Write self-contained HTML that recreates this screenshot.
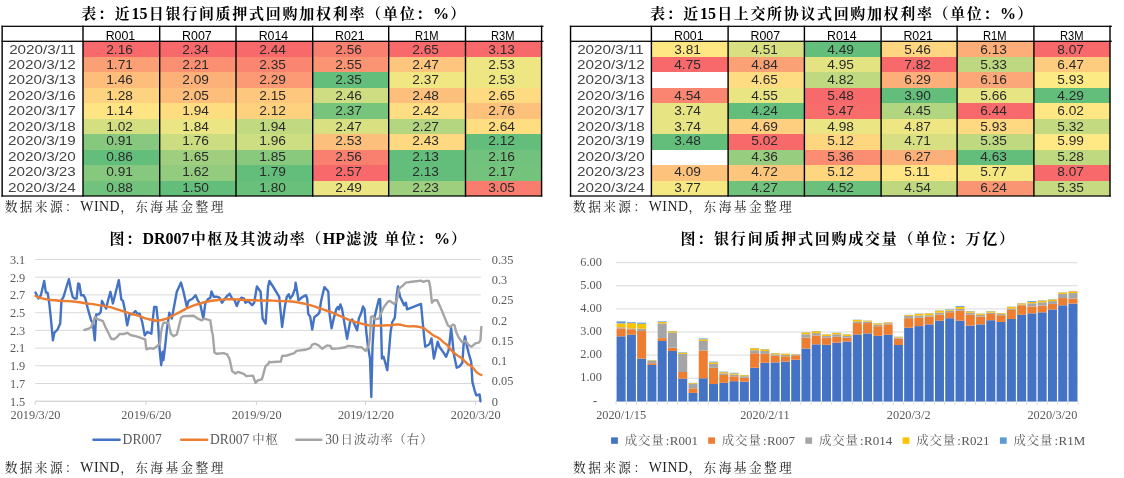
<!DOCTYPE html>
<html lang="zh-CN">
<head>
<meta charset="utf-8">
<title>回购利率与成交量</title>
<style>
html,body{margin:0;padding:0;background:#fff;}
body{width:1124px;height:478px;position:relative;overflow:hidden;font-family:"Liberation Serif","Noto Serif CJK SC",serif;}
.ttl{position:absolute;white-space:nowrap;font-weight:bold;font-size:15px;letter-spacing:1.6px;color:#000;line-height:20px;height:20px;}
.ttl b{letter-spacing:0;font-weight:bold;font-size:16px;margin-right:1.2px}
.src{position:absolute;white-space:nowrap;font-size:12.7px;letter-spacing:2.4px;color:#222;line-height:18px;height:18px;}
.src i{font-style:normal;letter-spacing:0.5px;font-size:13.9px;margin-left:0.2px;margin-right:0px}
.c{position:absolute;box-sizing:border-box;text-align:center;white-space:nowrap;overflow:visible;font-family:"Liberation Sans","Noto Sans CJK SC",sans-serif;}
.c span{display:inline-block;transform-origin:50% 50%;}
.d{font-size:12.7px;line-height:15.45px;color:#444;}
.d span{transform:translate(-0.3px,1.5px) scaleX(1.2);}
.v{font-size:12.7px;line-height:15.45px;color:#2b2b2b;}
.v span{transform:translate(-1.8px,1.5px) scaleX(1.08);}
.h{font-size:12.4px;line-height:12px;color:#000;padding-top:4.2px;}
.h span{transform:translate(-0.9px,0.2px) scaleX(1.0);}
.h span.nw{transform:translate(-0.3px,0.2px) scaleX(0.9);}
.ln{position:absolute;background:#000;}
svg{position:absolute;left:0;top:0;}
svg text{font-family:"Liberation Serif","Noto Serif CJK SC",serif;}
.ax{font-size:12.3px;fill:#595959;}
.lg{font-size:13.6px;fill:#595959;}
.lb{font-size:13px;fill:#595959;}
.cw{letter-spacing:1.4px}
.cj{font-size:12.4px;letter-spacing:0.9px}
</style>
</head>
<body>
<div class="ttl" style="left:81.3px;top:3.5px;letter-spacing:1.73px">表：近<b>15</b>日银行间质押式回购加权利率（单位：<b>%</b>）</div>
<div class="ttl" style="left:650.1px;top:3.5px;letter-spacing:1.64px">表：近<b>15</b>日上交所协议式回购加权利率（单位：<b>%</b>）</div>
<div class="ttl" style="left:109.4px;top:228.5px;letter-spacing:1.5px">图：<b>DR007</b>中枢及其波动率（<b>HP</b>滤波 单位：<b>%</b>）</div>
<div class="ttl" style="left:680.6px;top:228.5px;letter-spacing:1.76px">图：银行间质押式回购成交量（单位：万亿）</div>
<div id="t1">
<div class="c d" style="left:2.1px;top:41.30px;width:80.8px;height:15.47px"><span style="transform:translate(-0.3px,1.55px) scaleX(1.2)">2020/3/11</span></div>
<div class="c v" style="left:83.0px;top:41.30px;width:76.7px;height:15.52px;background:#F8696B;"><span style="transform:translate(-1.8px,1.55px) scaleX(1.08)">2.16</span></div>
<div class="c v" style="left:159.7px;top:41.30px;width:76.3px;height:15.52px;background:#F8696B;"><span style="transform:translate(-1.8px,1.55px) scaleX(1.08)">2.34</span></div>
<div class="c v" style="left:236.0px;top:41.30px;width:76.7px;height:15.52px;background:#F8696B;"><span style="transform:translate(-1.8px,1.55px) scaleX(1.08)">2.44</span></div>
<div class="c v" style="left:312.7px;top:41.30px;width:76.0px;height:15.52px;background:#F97F6F;"><span style="transform:translate(-1.8px,1.55px) scaleX(1.08)">2.56</span></div>
<div class="c v" style="left:388.7px;top:41.30px;width:76.8px;height:15.52px;background:#F8696B;"><span style="transform:translate(-1.8px,1.55px) scaleX(1.08)">2.65</span></div>
<div class="c v" style="left:465.5px;top:41.30px;width:76.1px;height:15.52px;background:#F8696B;"><span style="transform:translate(-1.8px,1.55px) scaleX(1.08)">3.13</span></div>
<div class="c d" style="left:2.1px;top:56.77px;width:80.8px;height:15.47px"><span style="transform:translate(-0.3px,1.35px) scaleX(1.2)">2020/3/12</span></div>
<div class="c v" style="left:83.0px;top:56.77px;width:76.7px;height:15.52px;background:#FB9F75;"><span style="transform:translate(-1.8px,1.35px) scaleX(1.08)">1.71</span></div>
<div class="c v" style="left:159.7px;top:56.77px;width:76.3px;height:15.52px;background:#FA8F72;"><span style="transform:translate(-1.8px,1.35px) scaleX(1.08)">2.21</span></div>
<div class="c v" style="left:236.0px;top:56.77px;width:76.7px;height:15.52px;background:#FA8671;"><span style="transform:translate(-1.8px,1.35px) scaleX(1.08)">2.35</span></div>
<div class="c v" style="left:312.7px;top:56.77px;width:76.0px;height:15.52px;background:#FA9473;"><span style="transform:translate(-1.8px,1.35px) scaleX(1.08)">2.55</span></div>
<div class="c v" style="left:388.7px;top:56.77px;width:76.8px;height:15.52px;background:#FDC57D;"><span style="transform:translate(-1.8px,1.35px) scaleX(1.08)">2.47</span></div>
<div class="c v" style="left:465.5px;top:56.77px;width:76.1px;height:15.52px;background:#EDE683;"><span style="transform:translate(-1.8px,1.35px) scaleX(1.08)">2.53</span></div>
<div class="c d" style="left:2.1px;top:72.24px;width:80.8px;height:15.47px"><span style="transform:translate(-0.3px,1.15px) scaleX(1.2)">2020/3/13</span></div>
<div class="c v" style="left:83.0px;top:72.24px;width:76.7px;height:15.52px;background:#FDBD7B;"><span style="transform:translate(-1.8px,1.15px) scaleX(1.08)">1.46</span></div>
<div class="c v" style="left:159.7px;top:72.24px;width:76.3px;height:15.52px;background:#FCB179;"><span style="transform:translate(-1.8px,1.15px) scaleX(1.08)">2.09</span></div>
<div class="c v" style="left:236.0px;top:72.24px;width:76.7px;height:15.52px;background:#FB9A74;"><span style="transform:translate(-1.8px,1.15px) scaleX(1.08)">2.29</span></div>
<div class="c v" style="left:312.7px;top:72.24px;width:76.0px;height:15.52px;background:#63BE7B;"><span style="transform:translate(-1.8px,1.15px) scaleX(1.08)">2.35</span></div>
<div class="c v" style="left:388.7px;top:72.24px;width:76.8px;height:15.52px;background:#F0E783;"><span style="transform:translate(-1.8px,1.15px) scaleX(1.08)">2.37</span></div>
<div class="c v" style="left:465.5px;top:72.24px;width:76.1px;height:15.52px;background:#EDE683;"><span style="transform:translate(-1.8px,1.15px) scaleX(1.08)">2.53</span></div>
<div class="c d" style="left:2.1px;top:87.71px;width:80.8px;height:15.47px"><span style="transform:translate(-0.3px,0.95px) scaleX(1.2)">2020/3/16</span></div>
<div class="c v" style="left:83.0px;top:87.71px;width:76.7px;height:15.52px;background:#FED37F;"><span style="transform:translate(-1.8px,0.95px) scaleX(1.08)">1.28</span></div>
<div class="c v" style="left:159.7px;top:87.71px;width:76.3px;height:15.52px;background:#FDBD7B;"><span style="transform:translate(-1.8px,0.95px) scaleX(1.08)">2.05</span></div>
<div class="c v" style="left:236.0px;top:87.71px;width:76.7px;height:15.52px;background:#FDC77D;"><span style="transform:translate(-1.8px,0.95px) scaleX(1.08)">2.15</span></div>
<div class="c v" style="left:312.7px;top:87.71px;width:76.0px;height:15.52px;background:#CEDD81;"><span style="transform:translate(-1.8px,0.95px) scaleX(1.08)">2.46</span></div>
<div class="c v" style="left:388.7px;top:87.71px;width:76.8px;height:15.52px;background:#FDC07C;"><span style="transform:translate(-1.8px,0.95px) scaleX(1.08)">2.48</span></div>
<div class="c v" style="left:465.5px;top:87.71px;width:76.1px;height:15.52px;background:#FEDB81;"><span style="transform:translate(-1.8px,0.95px) scaleX(1.08)">2.65</span></div>
<div class="c d" style="left:2.1px;top:103.18px;width:80.8px;height:15.47px"><span style="transform:translate(-0.3px,0.75px) scaleX(1.2)">2020/3/17</span></div>
<div class="c v" style="left:83.0px;top:103.18px;width:76.7px;height:15.52px;background:#FFE483;"><span style="transform:translate(-1.8px,0.75px) scaleX(1.08)">1.14</span></div>
<div class="c v" style="left:159.7px;top:103.18px;width:76.3px;height:15.52px;background:#FEDD81;"><span style="transform:translate(-1.8px,0.75px) scaleX(1.08)">1.94</span></div>
<div class="c v" style="left:236.0px;top:103.18px;width:76.7px;height:15.52px;background:#FED17F;"><span style="transform:translate(-1.8px,0.75px) scaleX(1.08)">2.12</span></div>
<div class="c v" style="left:312.7px;top:103.18px;width:76.0px;height:15.52px;background:#77C47C;"><span style="transform:translate(-1.8px,0.75px) scaleX(1.08)">2.37</span></div>
<div class="c v" style="left:388.7px;top:103.18px;width:76.8px;height:15.52px;background:#FEDE82;"><span style="transform:translate(-1.8px,0.75px) scaleX(1.08)">2.42</span></div>
<div class="c v" style="left:465.5px;top:103.18px;width:76.1px;height:15.52px;background:#FDC17C;"><span style="transform:translate(-1.8px,0.75px) scaleX(1.08)">2.76</span></div>
<div class="c d" style="left:2.1px;top:118.65px;width:80.8px;height:15.47px"><span style="transform:translate(-0.3px,0.55px) scaleX(1.2)">2020/3/18</span></div>
<div class="c v" style="left:83.0px;top:118.65px;width:76.7px;height:15.52px;background:#D4DF82;"><span style="transform:translate(-1.8px,0.55px) scaleX(1.08)">1.02</span></div>
<div class="c v" style="left:159.7px;top:118.65px;width:76.3px;height:15.52px;background:#EBE583;"><span style="transform:translate(-1.8px,0.55px) scaleX(1.08)">1.84</span></div>
<div class="c v" style="left:236.0px;top:118.65px;width:76.7px;height:15.52px;background:#C1D980;"><span style="transform:translate(-1.8px,0.55px) scaleX(1.08)">1.94</span></div>
<div class="c v" style="left:312.7px;top:118.65px;width:76.0px;height:15.52px;background:#D8E082;"><span style="transform:translate(-1.8px,0.55px) scaleX(1.08)">2.47</span></div>
<div class="c v" style="left:388.7px;top:118.65px;width:76.8px;height:15.52px;background:#B5D680;"><span style="transform:translate(-1.8px,0.55px) scaleX(1.08)">2.27</span></div>
<div class="c v" style="left:465.5px;top:118.65px;width:76.1px;height:15.52px;background:#FEDE81;"><span style="transform:translate(-1.8px,0.55px) scaleX(1.08)">2.64</span></div>
<div class="c d" style="left:2.1px;top:134.12px;width:80.8px;height:15.47px"><span style="transform:translate(-0.3px,0.35px) scaleX(1.2)">2020/3/19</span></div>
<div class="c v" style="left:83.0px;top:134.12px;width:76.7px;height:15.52px;background:#86C87D;"><span style="transform:translate(-1.8px,0.35px) scaleX(1.08)">0.91</span></div>
<div class="c v" style="left:159.7px;top:134.12px;width:76.3px;height:15.52px;background:#CBDC81;"><span style="transform:translate(-1.8px,0.35px) scaleX(1.08)">1.76</span></div>
<div class="c v" style="left:236.0px;top:134.12px;width:76.7px;height:15.52px;background:#CDDD81;"><span style="transform:translate(-1.8px,0.35px) scaleX(1.08)">1.96</span></div>
<div class="c v" style="left:312.7px;top:134.12px;width:76.0px;height:15.52px;background:#FDC07C;"><span style="transform:translate(-1.8px,0.35px) scaleX(1.08)">2.53</span></div>
<div class="c v" style="left:388.7px;top:134.12px;width:76.8px;height:15.52px;background:#FED981;"><span style="transform:translate(-1.8px,0.35px) scaleX(1.08)">2.43</span></div>
<div class="c v" style="left:465.5px;top:134.12px;width:76.1px;height:15.52px;background:#63BE7B;"><span style="transform:translate(-1.8px,0.35px) scaleX(1.08)">2.12</span></div>
<div class="c d" style="left:2.1px;top:149.59px;width:80.8px;height:15.47px"><span style="transform:translate(-0.3px,0.15px) scaleX(1.2)">2020/3/20</span></div>
<div class="c v" style="left:83.0px;top:149.59px;width:76.7px;height:15.52px;background:#63BE7B;"><span style="transform:translate(-1.8px,0.15px) scaleX(1.08)">0.86</span></div>
<div class="c v" style="left:159.7px;top:149.59px;width:76.3px;height:15.52px;background:#9FCF7E;"><span style="transform:translate(-1.8px,0.15px) scaleX(1.08)">1.65</span></div>
<div class="c v" style="left:236.0px;top:149.59px;width:76.7px;height:15.52px;background:#88C97D;"><span style="transform:translate(-1.8px,0.15px) scaleX(1.08)">1.85</span></div>
<div class="c v" style="left:312.7px;top:149.59px;width:76.0px;height:15.52px;background:#F97F6F;"><span style="transform:translate(-1.8px,0.15px) scaleX(1.08)">2.56</span></div>
<div class="c v" style="left:388.7px;top:149.59px;width:76.8px;height:15.52px;background:#63BE7B;"><span style="transform:translate(-1.8px,0.15px) scaleX(1.08)">2.13</span></div>
<div class="c v" style="left:465.5px;top:149.59px;width:76.1px;height:15.52px;background:#70C27C;"><span style="transform:translate(-1.8px,0.15px) scaleX(1.08)">2.16</span></div>
<div class="c d" style="left:2.1px;top:165.06px;width:80.8px;height:15.47px"><span style="transform:translate(-0.3px,-0.05px) scaleX(1.2)">2020/3/23</span></div>
<div class="c v" style="left:83.0px;top:165.06px;width:76.7px;height:15.52px;background:#86C87D;"><span style="transform:translate(-1.8px,-0.05px) scaleX(1.08)">0.91</span></div>
<div class="c v" style="left:159.7px;top:165.06px;width:76.3px;height:15.52px;background:#93CC7E;"><span style="transform:translate(-1.8px,-0.05px) scaleX(1.08)">1.62</span></div>
<div class="c v" style="left:236.0px;top:165.06px;width:76.7px;height:15.52px;background:#63BE7B;"><span style="transform:translate(-1.8px,-0.05px) scaleX(1.08)">1.79</span></div>
<div class="c v" style="left:312.7px;top:165.06px;width:76.0px;height:15.52px;background:#F8696B;"><span style="transform:translate(-1.8px,-0.05px) scaleX(1.08)">2.57</span></div>
<div class="c v" style="left:388.7px;top:165.06px;width:76.8px;height:15.52px;background:#63BE7B;"><span style="transform:translate(-1.8px,-0.05px) scaleX(1.08)">2.13</span></div>
<div class="c v" style="left:465.5px;top:165.06px;width:76.1px;height:15.52px;background:#74C37C;"><span style="transform:translate(-1.8px,-0.05px) scaleX(1.08)">2.17</span></div>
<div class="c d" style="left:2.1px;top:180.53px;width:80.8px;height:15.47px"><span style="transform:translate(-0.3px,-0.25px) scaleX(1.2)">2020/3/24</span></div>
<div class="c v" style="left:83.0px;top:180.53px;width:76.7px;height:15.52px;background:#71C27C;"><span style="transform:translate(-1.8px,-0.25px) scaleX(1.08)">0.88</span></div>
<div class="c v" style="left:159.7px;top:180.53px;width:76.3px;height:15.52px;background:#63BE7B;"><span style="transform:translate(-1.8px,-0.25px) scaleX(1.08)">1.50</span></div>
<div class="c v" style="left:236.0px;top:180.53px;width:76.7px;height:15.52px;background:#69C07B;"><span style="transform:translate(-1.8px,-0.25px) scaleX(1.08)">1.80</span></div>
<div class="c v" style="left:312.7px;top:180.53px;width:76.0px;height:15.52px;background:#ECE583;"><span style="transform:translate(-1.8px,-0.25px) scaleX(1.08)">2.49</span></div>
<div class="c v" style="left:388.7px;top:180.53px;width:76.8px;height:15.52px;background:#9ECF7E;"><span style="transform:translate(-1.8px,-0.25px) scaleX(1.08)">2.23</span></div>
<div class="c v" style="left:465.5px;top:180.53px;width:76.1px;height:15.52px;background:#F97C6F;"><span style="transform:translate(-1.8px,-0.25px) scaleX(1.08)">3.05</span></div>
<div class="c h" style="left:83.0px;top:26.30px;width:76.7px;height:15.00px"><span>R001</span></div>
<div class="c h" style="left:159.7px;top:26.30px;width:76.3px;height:15.00px"><span>R007</span></div>
<div class="c h" style="left:236.0px;top:26.30px;width:76.7px;height:15.00px"><span>R014</span></div>
<div class="c h" style="left:312.7px;top:26.30px;width:76.0px;height:15.00px"><span>R021</span></div>
<div class="c h" style="left:388.7px;top:26.30px;width:76.8px;height:15.00px"><span class="nw">R1M</span></div>
<div class="c h" style="left:465.5px;top:26.30px;width:76.1px;height:15.00px"><span class="nw">R3M</span></div>
</div>
<div id="t2">
<div class="c d" style="left:570.5px;top:41.30px;width:80.9px;height:15.47px"><span style="transform:translate(-0.3px,1.55px) scaleX(1.2)">2020/3/11</span></div>
<div class="c v" style="left:651.4px;top:41.30px;width:76.7px;height:15.52px;background:#FFE883;"><span style="transform:translate(-1.8px,1.55px) scaleX(1.08)">3.81</span></div>
<div class="c v" style="left:728.1px;top:41.30px;width:76.3px;height:15.52px;background:#D8E082;"><span style="transform:translate(-1.8px,1.55px) scaleX(1.08)">4.51</span></div>
<div class="c v" style="left:804.4px;top:41.30px;width:76.7px;height:15.52px;background:#63BE7B;"><span style="transform:translate(-1.8px,1.55px) scaleX(1.08)">4.49</span></div>
<div class="c v" style="left:881.1px;top:41.30px;width:76.0px;height:15.52px;background:#FED580;"><span style="transform:translate(-1.8px,1.55px) scaleX(1.08)">5.46</span></div>
<div class="c v" style="left:957.1px;top:41.30px;width:76.8px;height:15.52px;background:#FCAD78;"><span style="transform:translate(-1.8px,1.55px) scaleX(1.08)">6.13</span></div>
<div class="c v" style="left:1033.9px;top:41.30px;width:76.1px;height:15.52px;background:#F8696B;"><span style="transform:translate(-1.8px,1.55px) scaleX(1.08)">8.07</span></div>
<div class="c d" style="left:570.5px;top:56.77px;width:80.9px;height:15.47px"><span style="transform:translate(-0.3px,1.35px) scaleX(1.2)">2020/3/12</span></div>
<div class="c v" style="left:651.4px;top:56.77px;width:76.7px;height:15.52px;background:#F8696B;"><span style="transform:translate(-1.8px,1.35px) scaleX(1.08)">4.75</span></div>
<div class="c v" style="left:728.1px;top:56.77px;width:76.3px;height:15.52px;background:#FBA176;"><span style="transform:translate(-1.8px,1.35px) scaleX(1.08)">4.84</span></div>
<div class="c v" style="left:804.4px;top:56.77px;width:76.7px;height:15.52px;background:#E3E382;"><span style="transform:translate(-1.8px,1.35px) scaleX(1.08)">4.95</span></div>
<div class="c v" style="left:881.1px;top:56.77px;width:76.0px;height:15.52px;background:#F8696B;"><span style="transform:translate(-1.8px,1.35px) scaleX(1.08)">7.82</span></div>
<div class="c v" style="left:957.1px;top:56.77px;width:76.8px;height:15.52px;background:#BDD880;"><span style="transform:translate(-1.8px,1.35px) scaleX(1.08)">5.33</span></div>
<div class="c v" style="left:1033.9px;top:56.77px;width:76.1px;height:15.52px;background:#FDCC7E;"><span style="transform:translate(-1.8px,1.35px) scaleX(1.08)">6.47</span></div>
<div class="c d" style="left:570.5px;top:72.24px;width:80.9px;height:15.47px"><span style="transform:translate(-0.3px,1.15px) scaleX(1.2)">2020/3/13</span></div>
<div class="c v" style="left:651.4px;top:72.24px;width:76.7px;height:15.52px;"><span style="transform:translate(-1.8px,1.15px) scaleX(1.08)"></span></div>
<div class="c v" style="left:728.1px;top:72.24px;width:76.3px;height:15.52px;background:#FEDC81;"><span style="transform:translate(-1.8px,1.15px) scaleX(1.08)">4.65</span></div>
<div class="c v" style="left:804.4px;top:72.24px;width:76.7px;height:15.52px;background:#BFD980;"><span style="transform:translate(-1.8px,1.15px) scaleX(1.08)">4.82</span></div>
<div class="c v" style="left:881.1px;top:72.24px;width:76.0px;height:15.52px;background:#FCAF79;"><span style="transform:translate(-1.8px,1.15px) scaleX(1.08)">6.29</span></div>
<div class="c v" style="left:957.1px;top:72.24px;width:76.8px;height:15.52px;background:#FBA777;"><span style="transform:translate(-1.8px,1.15px) scaleX(1.08)">6.16</span></div>
<div class="c v" style="left:1033.9px;top:72.24px;width:76.1px;height:15.52px;background:#FCEA84;"><span style="transform:translate(-1.8px,1.15px) scaleX(1.08)">5.93</span></div>
<div class="c d" style="left:570.5px;top:87.71px;width:80.9px;height:15.47px"><span style="transform:translate(-0.3px,0.95px) scaleX(1.2)">2020/3/16</span></div>
<div class="c v" style="left:651.4px;top:87.71px;width:76.7px;height:15.52px;background:#FA8570;"><span style="transform:translate(-1.8px,0.95px) scaleX(1.08)">4.54</span></div>
<div class="c v" style="left:728.1px;top:87.71px;width:76.3px;height:15.52px;background:#E9E583;"><span style="transform:translate(-1.8px,0.95px) scaleX(1.08)">4.55</span></div>
<div class="c v" style="left:804.4px;top:87.71px;width:76.7px;height:15.52px;background:#F8696B;"><span style="transform:translate(-1.8px,0.95px) scaleX(1.08)">5.48</span></div>
<div class="c v" style="left:881.1px;top:87.71px;width:76.0px;height:15.52px;background:#63BE7B;"><span style="transform:translate(-1.8px,0.95px) scaleX(1.08)">3.90</span></div>
<div class="c v" style="left:957.1px;top:87.71px;width:76.8px;height:15.52px;background:#E7E483;"><span style="transform:translate(-1.8px,0.95px) scaleX(1.08)">5.66</span></div>
<div class="c v" style="left:1033.9px;top:87.71px;width:76.1px;height:15.52px;background:#63BE7B;"><span style="transform:translate(-1.8px,0.95px) scaleX(1.08)">4.29</span></div>
<div class="c d" style="left:570.5px;top:103.18px;width:80.9px;height:15.47px"><span style="transform:translate(-0.3px,0.75px) scaleX(1.2)">2020/3/17</span></div>
<div class="c v" style="left:651.4px;top:103.18px;width:76.7px;height:15.52px;background:#E6E483;"><span style="transform:translate(-1.8px,0.75px) scaleX(1.08)">3.74</span></div>
<div class="c v" style="left:728.1px;top:103.18px;width:76.3px;height:15.52px;background:#63BE7B;"><span style="transform:translate(-1.8px,0.75px) scaleX(1.08)">4.24</span></div>
<div class="c v" style="left:804.4px;top:103.18px;width:76.7px;height:15.52px;background:#F86C6C;"><span style="transform:translate(-1.8px,0.75px) scaleX(1.08)">5.47</span></div>
<div class="c v" style="left:881.1px;top:103.18px;width:76.0px;height:15.52px;background:#B2D580;"><span style="transform:translate(-1.8px,0.75px) scaleX(1.08)">4.45</span></div>
<div class="c v" style="left:957.1px;top:103.18px;width:76.8px;height:15.52px;background:#F8696B;"><span style="transform:translate(-1.8px,0.75px) scaleX(1.08)">6.44</span></div>
<div class="c v" style="left:1033.9px;top:103.18px;width:76.1px;height:15.52px;background:#FFE783;"><span style="transform:translate(-1.8px,0.75px) scaleX(1.08)">6.02</span></div>
<div class="c d" style="left:570.5px;top:118.65px;width:80.9px;height:15.47px"><span style="transform:translate(-0.3px,0.55px) scaleX(1.2)">2020/3/18</span></div>
<div class="c v" style="left:651.4px;top:118.65px;width:76.7px;height:15.52px;background:#E6E483;"><span style="transform:translate(-1.8px,0.55px) scaleX(1.08)">3.74</span></div>
<div class="c v" style="left:728.1px;top:118.65px;width:76.3px;height:15.52px;background:#FECF7F;"><span style="transform:translate(-1.8px,0.55px) scaleX(1.08)">4.69</span></div>
<div class="c v" style="left:804.4px;top:118.65px;width:76.7px;height:15.52px;background:#EBE583;"><span style="transform:translate(-1.8px,0.55px) scaleX(1.08)">4.98</span></div>
<div class="c v" style="left:881.1px;top:118.65px;width:76.0px;height:15.52px;background:#EEE683;"><span style="transform:translate(-1.8px,0.55px) scaleX(1.08)">4.87</span></div>
<div class="c v" style="left:957.1px;top:118.65px;width:76.8px;height:15.52px;background:#FED981;"><span style="transform:translate(-1.8px,0.55px) scaleX(1.08)">5.93</span></div>
<div class="c v" style="left:1033.9px;top:118.65px;width:76.1px;height:15.52px;background:#C3DA81;"><span style="transform:translate(-1.8px,0.55px) scaleX(1.08)">5.32</span></div>
<div class="c d" style="left:570.5px;top:134.12px;width:80.9px;height:15.47px"><span style="transform:translate(-0.3px,0.35px) scaleX(1.2)">2020/3/19</span></div>
<div class="c v" style="left:651.4px;top:134.12px;width:76.7px;height:15.52px;background:#63BE7B;"><span style="transform:translate(-1.8px,0.35px) scaleX(1.08)">3.48</span></div>
<div class="c v" style="left:728.1px;top:134.12px;width:76.3px;height:15.52px;background:#F8696B;"><span style="transform:translate(-1.8px,0.35px) scaleX(1.08)">5.02</span></div>
<div class="c v" style="left:804.4px;top:134.12px;width:76.7px;height:15.52px;background:#FED680;"><span style="transform:translate(-1.8px,0.35px) scaleX(1.08)">5.12</span></div>
<div class="c v" style="left:881.1px;top:134.12px;width:76.0px;height:15.52px;background:#D7DF82;"><span style="transform:translate(-1.8px,0.35px) scaleX(1.08)">4.71</span></div>
<div class="c v" style="left:957.1px;top:134.12px;width:76.8px;height:15.52px;background:#BFD980;"><span style="transform:translate(-1.8px,0.35px) scaleX(1.08)">5.35</span></div>
<div class="c v" style="left:1033.9px;top:134.12px;width:76.1px;height:15.52px;background:#FFE984;"><span style="transform:translate(-1.8px,0.35px) scaleX(1.08)">5.99</span></div>
<div class="c d" style="left:570.5px;top:149.59px;width:80.9px;height:15.47px"><span style="transform:translate(-0.3px,0.15px) scaleX(1.2)">2020/3/20</span></div>
<div class="c v" style="left:651.4px;top:149.59px;width:76.7px;height:15.52px;"><span style="transform:translate(-1.8px,0.15px) scaleX(1.08)"></span></div>
<div class="c v" style="left:728.1px;top:149.59px;width:76.3px;height:15.52px;background:#97CD7E;"><span style="transform:translate(-1.8px,0.15px) scaleX(1.08)">4.36</span></div>
<div class="c v" style="left:804.4px;top:149.59px;width:76.7px;height:15.52px;background:#FA8D72;"><span style="transform:translate(-1.8px,0.15px) scaleX(1.08)">5.36</span></div>
<div class="c v" style="left:881.1px;top:149.59px;width:76.0px;height:15.52px;background:#FCB079;"><span style="transform:translate(-1.8px,0.15px) scaleX(1.08)">6.27</span></div>
<div class="c v" style="left:957.1px;top:149.59px;width:76.8px;height:15.52px;background:#63BE7B;"><span style="transform:translate(-1.8px,0.15px) scaleX(1.08)">4.63</span></div>
<div class="c v" style="left:1033.9px;top:149.59px;width:76.1px;height:15.52px;background:#BFD980;"><span style="transform:translate(-1.8px,0.15px) scaleX(1.08)">5.28</span></div>
<div class="c d" style="left:570.5px;top:165.06px;width:80.9px;height:15.47px"><span style="transform:translate(-0.3px,-0.05px) scaleX(1.2)">2020/3/23</span></div>
<div class="c v" style="left:651.4px;top:165.06px;width:76.7px;height:15.52px;background:#FDC27C;"><span style="transform:translate(-1.8px,-0.05px) scaleX(1.08)">4.09</span></div>
<div class="c v" style="left:728.1px;top:165.06px;width:76.3px;height:15.52px;background:#FDC67D;"><span style="transform:translate(-1.8px,-0.05px) scaleX(1.08)">4.72</span></div>
<div class="c v" style="left:804.4px;top:165.06px;width:76.7px;height:15.52px;background:#FED680;"><span style="transform:translate(-1.8px,-0.05px) scaleX(1.08)">5.12</span></div>
<div class="c v" style="left:881.1px;top:165.06px;width:76.0px;height:15.52px;background:#FFE583;"><span style="transform:translate(-1.8px,-0.05px) scaleX(1.08)">5.11</span></div>
<div class="c v" style="left:957.1px;top:165.06px;width:76.8px;height:15.52px;background:#F5E883;"><span style="transform:translate(-1.8px,-0.05px) scaleX(1.08)">5.77</span></div>
<div class="c v" style="left:1033.9px;top:165.06px;width:76.1px;height:15.52px;background:#F8696B;"><span style="transform:translate(-1.8px,-0.05px) scaleX(1.08)">8.07</span></div>
<div class="c d" style="left:570.5px;top:180.53px;width:80.9px;height:15.47px"><span style="transform:translate(-0.3px,-0.25px) scaleX(1.2)">2020/3/24</span></div>
<div class="c v" style="left:651.4px;top:180.53px;width:76.7px;height:15.52px;background:#F5E883;"><span style="transform:translate(-1.8px,-0.25px) scaleX(1.08)">3.77</span></div>
<div class="c v" style="left:728.1px;top:180.53px;width:76.3px;height:15.52px;background:#70C27C;"><span style="transform:translate(-1.8px,-0.25px) scaleX(1.08)">4.27</span></div>
<div class="c v" style="left:804.4px;top:180.53px;width:76.7px;height:15.52px;background:#6BC07B;"><span style="transform:translate(-1.8px,-0.25px) scaleX(1.08)">4.52</span></div>
<div class="c v" style="left:881.1px;top:180.53px;width:76.0px;height:15.52px;background:#BFD880;"><span style="transform:translate(-1.8px,-0.25px) scaleX(1.08)">4.54</span></div>
<div class="c v" style="left:957.1px;top:180.53px;width:76.8px;height:15.52px;background:#FA9573;"><span style="transform:translate(-1.8px,-0.25px) scaleX(1.08)">6.24</span></div>
<div class="c v" style="left:1033.9px;top:180.53px;width:76.1px;height:15.52px;background:#C6DB81;"><span style="transform:translate(-1.8px,-0.25px) scaleX(1.08)">5.35</span></div>
<div class="c h" style="left:651.4px;top:26.30px;width:76.7px;height:15.00px"><span>R001</span></div>
<div class="c h" style="left:728.1px;top:26.30px;width:76.3px;height:15.00px"><span>R007</span></div>
<div class="c h" style="left:804.4px;top:26.30px;width:76.7px;height:15.00px"><span>R014</span></div>
<div class="c h" style="left:881.1px;top:26.30px;width:76.0px;height:15.00px"><span>R021</span></div>
<div class="c h" style="left:957.1px;top:26.30px;width:76.8px;height:15.00px"><span class="nw">R1M</span></div>
<div class="c h" style="left:1033.9px;top:26.30px;width:76.1px;height:15.00px"><span class="nw">R3M</span></div>
</div>
<div class="src" style="left:4.7px;top:197.8px">数据来源：<i>WIND</i>，东海基金整理</div>
<div class="src" style="left:573.1px;top:197.8px">数据来源：<i>WIND</i>，东海基金整理</div>
<div class="src" style="left:4.7px;top:459.1px">数据来源：<i>WIND</i>，东海基金整理</div>
<div class="src" style="left:573.1px;top:459.1px">数据来源：<i>WIND</i>，东海基金整理</div>
<svg width="1124" height="478" viewBox="0 0 1124 478">
<g id="grid">
<rect x="1.45" y="25.68" width="542.05" height="1.25" fill="#000"/>
<rect x="1.45" y="40.67" width="542.05" height="1.25" fill="#000"/>
<rect x="1.45" y="195.38" width="540.85" height="1.25" fill="#000"/>
<rect x="1.45" y="25.68" width="1.40" height="170.95" fill="#000"/>
<rect x="82.30" y="25.68" width="1.40" height="170.95" fill="#000"/>
<rect x="159.00" y="25.68" width="1.40" height="170.95" fill="#000"/>
<rect x="235.30" y="25.68" width="1.40" height="170.95" fill="#000"/>
<rect x="312.00" y="25.68" width="1.40" height="170.95" fill="#000"/>
<rect x="388.00" y="25.68" width="1.40" height="170.95" fill="#000"/>
<rect x="464.80" y="25.68" width="1.40" height="170.95" fill="#000"/>
<rect x="540.90" y="25.68" width="1.40" height="170.95" fill="#000"/>
<rect x="569.85" y="25.68" width="542.05" height="1.25" fill="#000"/>
<rect x="569.85" y="40.67" width="542.05" height="1.25" fill="#000"/>
<rect x="569.85" y="195.38" width="540.85" height="1.25" fill="#000"/>
<rect x="569.85" y="25.68" width="1.40" height="170.95" fill="#000"/>
<rect x="650.70" y="25.68" width="1.40" height="170.95" fill="#000"/>
<rect x="727.40" y="25.68" width="1.40" height="170.95" fill="#000"/>
<rect x="803.70" y="25.68" width="1.40" height="170.95" fill="#000"/>
<rect x="880.40" y="25.68" width="1.40" height="170.95" fill="#000"/>
<rect x="956.40" y="25.68" width="1.40" height="170.95" fill="#000"/>
<rect x="1033.20" y="25.68" width="1.40" height="170.95" fill="#000"/>
<rect x="1109.30" y="25.68" width="1.40" height="170.95" fill="#000"/>
</g>
<g id="linechart">
<line x1="35.2" y1="259.5" x2="480.8" y2="259.5" stroke="#D9D9D9" stroke-width="1"/>
<line x1="35.2" y1="277.2" x2="480.8" y2="277.2" stroke="#D9D9D9" stroke-width="1"/>
<line x1="35.2" y1="294.9" x2="480.8" y2="294.9" stroke="#D9D9D9" stroke-width="1"/>
<line x1="35.2" y1="312.7" x2="480.8" y2="312.7" stroke="#D9D9D9" stroke-width="1"/>
<line x1="35.2" y1="330.4" x2="480.8" y2="330.4" stroke="#D9D9D9" stroke-width="1"/>
<line x1="35.2" y1="348.1" x2="480.8" y2="348.1" stroke="#D9D9D9" stroke-width="1"/>
<line x1="35.2" y1="365.8" x2="480.8" y2="365.8" stroke="#D9D9D9" stroke-width="1"/>
<line x1="35.2" y1="383.5" x2="480.8" y2="383.5" stroke="#D9D9D9" stroke-width="1"/>
<line x1="35.2" y1="401.2" x2="480.8" y2="401.2" stroke="#C8C8C8" stroke-width="1"/>
<line x1="35.2" y1="401.2" x2="35.2" y2="404.8" stroke="#D0D0D0" stroke-width="1"/>
<line x1="146.0" y1="401.2" x2="146.0" y2="404.8" stroke="#D0D0D0" stroke-width="1"/>
<line x1="256.4" y1="401.2" x2="256.4" y2="404.8" stroke="#D0D0D0" stroke-width="1"/>
<line x1="365.6" y1="401.2" x2="365.6" y2="404.8" stroke="#D0D0D0" stroke-width="1"/>
<line x1="475.4" y1="401.2" x2="475.4" y2="404.8" stroke="#D0D0D0" stroke-width="1"/>
<path d="M35.5 292.6 L38.4 298.5 L40.9 295.2 L44.2 280.9 L45.9 292.6 L47.6 292.6 L49.3 303.5 L50.9 318.6 L52.9 340.4 L54.3 332.8 L57.6 329.5 L60.2 323.6 L61.5 300.2 L63.5 296.8 L66.0 288.5 L68.9 279.2 L71.0 290.1 L72.7 296.8 L74.4 298.5 L76.6 298.5 L78.2 283.4 L79.4 284.3 L81.1 295.2 L83.6 295.2 L85.3 298.5 L87.8 308.6 L91.1 320.3 L92.8 322.8 L94.8 340.4 L96.2 314.4 L98.7 314.4 L100.7 311.9 L102.0 301.0 L103.7 304.4 L106.2 308.6 L107.9 301.0 L110.4 291.8 L112.9 303.5 L115.4 293.5 L118.8 280.1 L121.3 299.3 L123.0 301.0 L124.6 308.6 L127.2 325.3 L129.7 313.6 L132.2 314.4 L135.5 311.1 L137.2 313.6 L139.7 313.6 L142.2 322.0 L144.7 335.4 L147.3 332.0 L151.4 333.7 L152.5 322.0 L154.2 306.9 L156.4 306.9 L158.0 322.0 L159.7 350.1 L161.2 365.2 L162.6 351.8 L163.4 360.1 L165.1 346.7 L166.8 330.3 L169.3 312.7 L171.8 318.6 L174.3 305.2 L176.8 291.8 L181.0 282.6 L183.5 291.8 L186.9 306.9 L188.5 301.0 L192.7 298.5 L195.6 295.2 L197.7 300.2 L200.3 304.4 L203.3 318.6 L205.3 303.5 L207.8 299.3 L210.3 297.7 L211.5 291.5 L213.7 296.8 L217.0 296.8 L219.5 297.7 L222.0 302.7 L224.5 299.3 L227.1 296.0 L229.6 293.8 L232.1 298.5 L234.6 300.2 L236.8 306.0 L238.8 301.0 L241.3 297.7 L243.8 298.5 L245.5 302.7 L248.0 301.0 L252.2 305.2 L254.2 302.7 L256.9 286.4 L260.6 291.8 L262.6 318.6 L265.6 323.6 L268.1 286.8 L269.4 280.9 L274.2 288.5 L279.2 296.8 L282.1 327.0 L285.1 305.2 L286.8 296.8 L288.8 294.3 L290.1 298.5 L292.6 295.2 L295.1 288.5 L295.6 282.6 L297.6 294.3 L298.5 300.2 L302.7 296.8 L306.0 295.2 L307.2 298.5 L308.2 313.6 L310.2 316.9 L312.2 329.5 L314.4 316.9 L316.9 315.3 L319.4 312.7 L321.1 301.0 L324.4 287.1 L328.3 291.5 L329.5 313.6 L331.6 328.3 L333.7 318.6 L336.2 309.4 L337.8 306.9 L339.0 309.4 L340.4 304.4 L342.0 308.6 L344.5 323.6 L347.1 338.7 L350.1 322.0 L352.1 319.4 L353.8 322.8 L357.1 330.3 L358.8 318.6 L361.3 312.7 L363.0 306.5 L364.6 309.4 L366.3 332.0 L368.0 346.7 L370.0 358.5 L371.3 397.0 L372.5 346.7 L374.2 318.6 L376.4 309.4 L378.9 299.3 L380.1 299.3 L380.9 318.6 L381.9 358.5 L383.6 356.8 L387.3 370.2 L388.9 351.8 L390.6 332.0 L392.3 322.0 L394.8 317.8 L396.7 295.2 L398.0 286.4 L400.1 296.8 L402.6 301.9 L404.2 305.2 L405.9 302.7 L407.1 309.4 L421.0 303.9 L422.7 322.0 L424.0 335.4 L425.2 346.7 L429.4 344.2 L431.5 338.4 L433.9 358.5 L437.7 341.7 L439.4 346.7 L443.6 352.6 L446.1 356.8 L448.6 350.1 L450.0 338.7 L451.1 327.8 L452.3 338.7 L453.7 353.4 L456.7 367.7 L459.5 366.5 L462.4 362.7 L463.7 343.4 L465.0 336.4 L466.7 345.1 L468.7 353.4 L471.2 361.8 L472.4 381.9 L474.6 390.3 L476.3 395.3 L479.6 394.5 L480.5 401.2" fill="none" stroke="#4472C4" stroke-width="2.4" stroke-linejoin="round" stroke-linecap="round"/>
<path d="M35.5 296.0 C37.0 296.6 36.3 296.7 40.1 297.8 C43.8 298.9 41.7 298.5 46.8 299.3 C51.8 300.2 49.5 299.8 55.1 300.3 C60.7 300.9 57.4 300.6 63.5 301.0 C69.6 301.4 66.3 300.8 73.6 301.5 C80.8 302.2 77.5 302.1 85.3 303.2 C93.1 304.3 89.2 303.6 97.0 304.9 C104.8 306.1 101.5 305.2 108.7 306.9 C116.0 308.6 111.5 307.7 118.8 309.9 C126.0 312.1 124.4 311.8 130.5 313.6 C136.6 315.4 131.6 313.5 137.2 315.3 C142.8 317.0 141.7 317.4 147.3 318.9 C152.8 320.5 150.8 319.3 154.0 319.9 C157.1 320.6 152.4 321.2 156.7 320.8 C161.0 320.3 161.7 320.2 166.8 318.6 C171.8 317.0 167.3 318.3 171.8 316.1 C176.2 313.9 174.0 315.0 180.2 311.9 C186.3 308.8 183.5 309.7 190.2 306.9 C196.9 304.1 193.6 305.5 200.3 303.5 C207.0 301.6 203.6 302.2 210.3 301.0 C217.0 299.8 214.2 300.5 220.4 299.8 C226.5 299.2 222.0 299.2 228.7 299.2 C235.4 299.1 232.1 299.3 240.5 299.7 C248.8 300.0 244.9 299.9 253.9 300.2 C262.8 300.5 261.9 300.4 267.3 300.5 C272.6 300.6 265.7 300.3 270.0 300.5 C274.3 300.7 272.8 300.7 280.1 301.0 C287.3 301.3 284.5 300.8 291.8 301.5 C299.0 302.2 295.7 302.0 301.8 303.2 C308.0 304.4 304.1 303.4 310.2 305.2 C316.3 307.0 313.6 306.3 320.3 308.6 C327.0 310.8 323.6 309.4 330.3 311.9 C337.0 314.4 333.7 313.3 340.4 316.1 C347.1 318.9 343.7 317.9 350.4 320.3 C357.1 322.7 354.3 321.6 360.5 323.3 C366.6 325.0 363.2 324.5 368.8 325.3 C374.4 326.1 371.1 325.6 377.2 325.6 C383.3 325.6 383.0 325.4 387.3 325.3 C391.5 325.2 386.3 325.6 390.0 325.3 C393.7 325.0 392.8 324.2 398.4 324.5 C404.0 324.7 399.5 325.2 406.8 326.1 C414.0 327.0 412.9 325.3 420.2 327.1 C427.4 329.0 424.1 328.9 428.5 331.7 C433.0 334.5 430.2 333.4 433.6 335.5 C436.9 337.6 435.2 335.7 438.6 338.0 C441.9 340.3 440.5 339.8 443.6 342.4 C446.7 345.0 445.0 342.9 447.8 345.7 C450.6 348.6 448.9 347.8 452.0 350.9 C455.0 354.1 453.7 352.6 457.0 355.1 C460.4 357.6 458.7 355.7 462.0 358.5 C465.4 361.3 463.7 360.7 467.1 363.5 C470.4 366.3 468.7 363.8 472.1 366.8 C475.4 369.9 474.0 370.0 477.1 372.7 C480.2 375.4 479.9 374.2 481.3 374.9" fill="none" stroke="#ED7D31" stroke-width="2.4" stroke-linejoin="round" stroke-linecap="round"/>
<path d="M84.4 330.0 L88.6 328.7 L91.1 327.3 L93.3 322.0 L95.0 316.9 L97.0 318.9 L102.9 321.1 L105.4 327.0 L107.9 332.0 L111.2 338.7 L113.8 339.2 L117.1 337.0 L119.6 334.0 L123.8 334.0 L127.2 332.8 L130.5 335.0 L137.2 336.7 L142.2 338.4 L145.2 339.5 L146.4 349.3 L150.0 348.1 L153.4 348.8 L157.5 345.9 L160.1 343.4 L160.9 333.3 L162.1 327.0 L163.4 322.8 L168.4 322.8 L170.9 333.7 L173.5 336.2 L176.8 334.5 L181.0 317.8 L183.5 316.1 L193.6 315.8 L197.7 318.6 L201.9 320.3 L204.4 318.6 L210.3 320.3 L212.0 332.0 L212.8 335.0 L214.5 352.6 L217.0 353.8 L223.7 353.1 L227.1 354.3 L229.6 359.3 L232.1 371.0 L235.4 373.5 L237.9 371.9 L243.8 373.9 L246.3 376.1 L253.0 375.6 L255.5 382.8 L258.0 380.2 L261.9 379.4 L265.6 366.0 L268.1 364.3 L269.3 361.8 L270.0 362.2 L280.9 361.5 L282.1 356.0 L286.8 355.5 L294.3 353.1 L296.5 350.9 L305.2 349.8 L310.2 348.1 L312.2 344.7 L315.2 343.7 L318.6 345.4 L322.3 348.8 L327.0 345.4 L330.3 345.9 L332.0 348.8 L338.7 348.4 L345.4 347.2 L347.9 345.9 L352.9 346.2 L357.1 347.2 L361.3 347.2 L365.5 350.9 L368.8 345.9 L370.0 337.0 L371.0 316.9 L373.0 316.1 L374.7 319.4 L378.9 318.6 L383.9 306.9 L388.1 301.5 L390.0 301.0 L394.2 303.9 L396.7 301.0 L399.2 288.5 L402.6 285.9 L405.9 282.6 L411.8 281.8 L421.0 280.6 L423.5 281.8 L426.0 280.9 L428.9 280.9 L430.2 286.8 L431.9 302.7 L434.4 300.2 L437.2 300.2 L440.3 306.9 L444.4 316.9 L447.8 325.3 L450.3 327.0 L452.8 324.5 L454.5 325.3 L456.2 332.0 L458.7 337.5 L462.0 342.1 L465.4 340.9 L468.7 345.1 L471.7 346.7 L475.4 343.4 L478.8 342.6 L480.5 340.0 L481.3 327.0" fill="none" stroke="#A5A5A5" stroke-width="2.4" stroke-linejoin="round" stroke-linecap="round"/>
<text x="9.9" y="263.8" class="ax">3.1</text>
<text x="9.9" y="281.5" class="ax">2.9</text>
<text x="9.9" y="299.2" class="ax">2.7</text>
<text x="9.9" y="317.0" class="ax">2.5</text>
<text x="9.9" y="334.7" class="ax">2.3</text>
<text x="9.9" y="352.4" class="ax">2.1</text>
<text x="9.9" y="370.1" class="ax">1.9</text>
<text x="9.9" y="387.8" class="ax">1.7</text>
<text x="9.9" y="405.6" class="ax">1.5</text>
<text x="491.8" y="263.8" class="ax">0.35</text>
<text x="491.8" y="284.1" class="ax">0.3</text>
<text x="491.8" y="304.3" class="ax">0.25</text>
<text x="491.8" y="324.6" class="ax">0.2</text>
<text x="491.8" y="344.8" class="ax">0.15</text>
<text x="491.8" y="365.1" class="ax">0.1</text>
<text x="491.8" y="385.3" class="ax">0.05</text>
<text x="491.8" y="405.6" class="ax">0</text>
<text x="35.5" y="419" class="ax" text-anchor="middle">2019/3/20</text>
<text x="146.3" y="419" class="ax" text-anchor="middle">2019/6/20</text>
<text x="256.7" y="419" class="ax" text-anchor="middle">2019/9/20</text>
<text x="365.9" y="419" class="ax" text-anchor="middle">2019/12/20</text>
<text x="475.7" y="419" class="ax" text-anchor="middle">2020/3/20</text>
<line x1="93.5" y1="439.7" x2="119.6" y2="439.7" stroke="#4472C4" stroke-width="2.5" stroke-linecap="round"/>
<text x="122.6" y="444" class="lg">DR007</text>
<line x1="181.2" y1="439.7" x2="207.1" y2="439.7" stroke="#ED7D31" stroke-width="2.5" stroke-linecap="round"/>
<text x="210" y="444" class="lg">DR007<tspan class="cj" dx="3">中枢</tspan></text>
<line x1="296.3" y1="439.7" x2="321.3" y2="439.7" stroke="#A5A5A5" stroke-width="2.5" stroke-linecap="round"/>
<text x="325.3" y="444" class="lg">30<tspan class="cj cw" dx="1.5">日波动率（右）</tspan></text>
</g>
<g id="barchart">
<line x1="616.1" y1="262.7" x2="1077.7" y2="262.7" stroke="#D9D9D9" stroke-width="1"/>
<line x1="616.1" y1="285.8" x2="1077.7" y2="285.8" stroke="#D9D9D9" stroke-width="1"/>
<line x1="616.1" y1="308.9" x2="1077.7" y2="308.9" stroke="#D9D9D9" stroke-width="1"/>
<line x1="616.1" y1="332.0" x2="1077.7" y2="332.0" stroke="#D9D9D9" stroke-width="1"/>
<line x1="616.1" y1="355.1" x2="1077.7" y2="355.1" stroke="#D9D9D9" stroke-width="1"/>
<line x1="616.1" y1="378.2" x2="1077.7" y2="378.2" stroke="#D9D9D9" stroke-width="1"/>
<line x1="616.1" y1="401.0" x2="1077.7" y2="401.0" stroke="#D0D0D0" stroke-width="1"/>
<line x1="616.00" y1="401.0" x2="616.00" y2="404.8" stroke="#D9D9D9" stroke-width="0.9"/>
<line x1="626.27" y1="401.0" x2="626.27" y2="404.8" stroke="#D9D9D9" stroke-width="0.9"/>
<line x1="636.54" y1="401.0" x2="636.54" y2="404.8" stroke="#D9D9D9" stroke-width="0.9"/>
<line x1="646.81" y1="401.0" x2="646.81" y2="404.8" stroke="#D9D9D9" stroke-width="0.9"/>
<line x1="657.08" y1="401.0" x2="657.08" y2="404.8" stroke="#D9D9D9" stroke-width="0.9"/>
<line x1="667.35" y1="401.0" x2="667.35" y2="404.8" stroke="#D9D9D9" stroke-width="0.9"/>
<line x1="677.62" y1="401.0" x2="677.62" y2="404.8" stroke="#D9D9D9" stroke-width="0.9"/>
<line x1="687.89" y1="401.0" x2="687.89" y2="404.8" stroke="#D9D9D9" stroke-width="0.9"/>
<line x1="698.16" y1="401.0" x2="698.16" y2="404.8" stroke="#D9D9D9" stroke-width="0.9"/>
<line x1="708.43" y1="401.0" x2="708.43" y2="404.8" stroke="#D9D9D9" stroke-width="0.9"/>
<line x1="718.70" y1="401.0" x2="718.70" y2="404.8" stroke="#D9D9D9" stroke-width="0.9"/>
<line x1="728.97" y1="401.0" x2="728.97" y2="404.8" stroke="#D9D9D9" stroke-width="0.9"/>
<line x1="739.24" y1="401.0" x2="739.24" y2="404.8" stroke="#D9D9D9" stroke-width="0.9"/>
<line x1="749.51" y1="401.0" x2="749.51" y2="404.8" stroke="#D9D9D9" stroke-width="0.9"/>
<line x1="759.78" y1="401.0" x2="759.78" y2="404.8" stroke="#D9D9D9" stroke-width="0.9"/>
<line x1="770.05" y1="401.0" x2="770.05" y2="404.8" stroke="#D9D9D9" stroke-width="0.9"/>
<line x1="780.32" y1="401.0" x2="780.32" y2="404.8" stroke="#D9D9D9" stroke-width="0.9"/>
<line x1="790.59" y1="401.0" x2="790.59" y2="404.8" stroke="#D9D9D9" stroke-width="0.9"/>
<line x1="800.86" y1="401.0" x2="800.86" y2="404.8" stroke="#D9D9D9" stroke-width="0.9"/>
<line x1="811.13" y1="401.0" x2="811.13" y2="404.8" stroke="#D9D9D9" stroke-width="0.9"/>
<line x1="821.40" y1="401.0" x2="821.40" y2="404.8" stroke="#D9D9D9" stroke-width="0.9"/>
<line x1="831.67" y1="401.0" x2="831.67" y2="404.8" stroke="#D9D9D9" stroke-width="0.9"/>
<line x1="841.94" y1="401.0" x2="841.94" y2="404.8" stroke="#D9D9D9" stroke-width="0.9"/>
<line x1="852.21" y1="401.0" x2="852.21" y2="404.8" stroke="#D9D9D9" stroke-width="0.9"/>
<line x1="862.48" y1="401.0" x2="862.48" y2="404.8" stroke="#D9D9D9" stroke-width="0.9"/>
<line x1="872.75" y1="401.0" x2="872.75" y2="404.8" stroke="#D9D9D9" stroke-width="0.9"/>
<line x1="883.02" y1="401.0" x2="883.02" y2="404.8" stroke="#D9D9D9" stroke-width="0.9"/>
<line x1="893.29" y1="401.0" x2="893.29" y2="404.8" stroke="#D9D9D9" stroke-width="0.9"/>
<line x1="903.56" y1="401.0" x2="903.56" y2="404.8" stroke="#D9D9D9" stroke-width="0.9"/>
<line x1="913.83" y1="401.0" x2="913.83" y2="404.8" stroke="#D9D9D9" stroke-width="0.9"/>
<line x1="924.10" y1="401.0" x2="924.10" y2="404.8" stroke="#D9D9D9" stroke-width="0.9"/>
<line x1="934.37" y1="401.0" x2="934.37" y2="404.8" stroke="#D9D9D9" stroke-width="0.9"/>
<line x1="944.64" y1="401.0" x2="944.64" y2="404.8" stroke="#D9D9D9" stroke-width="0.9"/>
<line x1="954.91" y1="401.0" x2="954.91" y2="404.8" stroke="#D9D9D9" stroke-width="0.9"/>
<line x1="965.18" y1="401.0" x2="965.18" y2="404.8" stroke="#D9D9D9" stroke-width="0.9"/>
<line x1="975.45" y1="401.0" x2="975.45" y2="404.8" stroke="#D9D9D9" stroke-width="0.9"/>
<line x1="985.72" y1="401.0" x2="985.72" y2="404.8" stroke="#D9D9D9" stroke-width="0.9"/>
<line x1="995.99" y1="401.0" x2="995.99" y2="404.8" stroke="#D9D9D9" stroke-width="0.9"/>
<line x1="1006.26" y1="401.0" x2="1006.26" y2="404.8" stroke="#D9D9D9" stroke-width="0.9"/>
<line x1="1016.53" y1="401.0" x2="1016.53" y2="404.8" stroke="#D9D9D9" stroke-width="0.9"/>
<line x1="1026.80" y1="401.0" x2="1026.80" y2="404.8" stroke="#D9D9D9" stroke-width="0.9"/>
<line x1="1037.07" y1="401.0" x2="1037.07" y2="404.8" stroke="#D9D9D9" stroke-width="0.9"/>
<line x1="1047.34" y1="401.0" x2="1047.34" y2="404.8" stroke="#D9D9D9" stroke-width="0.9"/>
<line x1="1057.61" y1="401.0" x2="1057.61" y2="404.8" stroke="#D9D9D9" stroke-width="0.9"/>
<line x1="1067.88" y1="401.0" x2="1067.88" y2="404.8" stroke="#D9D9D9" stroke-width="0.9"/>
<line x1="1078.15" y1="401.0" x2="1078.15" y2="404.8" stroke="#D9D9D9" stroke-width="0.9"/>
<rect x="616.60" y="336.31" width="9.00" height="65.19" fill="#4472C4"/>
<rect x="616.60" y="328.42" width="9.00" height="7.89" fill="#ED7D31"/>
<rect x="616.60" y="327.26" width="9.00" height="1.16" fill="#A5A5A5"/>
<rect x="616.60" y="323.39" width="9.00" height="3.87" fill="#FFC000"/>
<rect x="616.60" y="321.37" width="9.00" height="2.02" fill="#5B9BD5"/>
<rect x="626.87" y="334.78" width="9.00" height="66.72" fill="#4472C4"/>
<rect x="626.87" y="329.23" width="9.00" height="5.54" fill="#ED7D31"/>
<rect x="626.87" y="328.42" width="9.00" height="0.81" fill="#A5A5A5"/>
<rect x="626.87" y="323.08" width="9.00" height="5.34" fill="#FFC000"/>
<rect x="626.87" y="322.20" width="9.00" height="0.88" fill="#5B9BD5"/>
<rect x="637.14" y="358.58" width="9.00" height="42.92" fill="#4472C4"/>
<rect x="637.14" y="330.97" width="9.00" height="27.61" fill="#ED7D31"/>
<rect x="637.14" y="328.74" width="9.00" height="2.23" fill="#A5A5A5"/>
<rect x="637.14" y="323.78" width="9.00" height="4.96" fill="#FFC000"/>
<rect x="637.14" y="322.62" width="9.00" height="1.16" fill="#5B9BD5"/>
<rect x="647.41" y="364.94" width="9.00" height="36.56" fill="#4472C4"/>
<rect x="647.41" y="363.22" width="9.00" height="1.72" fill="#ED7D31"/>
<rect x="647.41" y="360.74" width="9.00" height="2.48" fill="#A5A5A5"/>
<rect x="647.41" y="360.20" width="9.00" height="0.53" fill="#FFC000"/>
<rect x="647.41" y="359.97" width="9.00" height="0.23" fill="#5B9BD5"/>
<rect x="657.68" y="340.95" width="9.00" height="60.55" fill="#4472C4"/>
<rect x="657.68" y="338.16" width="9.00" height="2.78" fill="#ED7D31"/>
<rect x="657.68" y="323.39" width="9.00" height="14.78" fill="#A5A5A5"/>
<rect x="657.68" y="322.04" width="9.00" height="1.35" fill="#FFC000"/>
<rect x="657.68" y="321.37" width="9.00" height="0.67" fill="#5B9BD5"/>
<rect x="667.95" y="351.02" width="9.00" height="50.48" fill="#4472C4"/>
<rect x="667.95" y="347.68" width="9.00" height="3.34" fill="#ED7D31"/>
<rect x="667.95" y="332.60" width="9.00" height="15.08" fill="#A5A5A5"/>
<rect x="667.95" y="331.32" width="9.00" height="1.28" fill="#FFC000"/>
<rect x="667.95" y="330.97" width="9.00" height="0.35" fill="#5B9BD5"/>
<rect x="678.22" y="378.67" width="9.00" height="22.83" fill="#4472C4"/>
<rect x="678.22" y="371.97" width="9.00" height="6.70" fill="#ED7D31"/>
<rect x="678.22" y="353.94" width="9.00" height="18.03" fill="#A5A5A5"/>
<rect x="678.22" y="352.66" width="9.00" height="1.28" fill="#FFC000"/>
<rect x="678.22" y="352.20" width="9.00" height="0.46" fill="#5B9BD5"/>
<rect x="688.49" y="392.92" width="9.00" height="8.58" fill="#4472C4"/>
<rect x="688.49" y="388.37" width="9.00" height="4.55" fill="#ED7D31"/>
<rect x="688.49" y="384.03" width="9.00" height="4.34" fill="#A5A5A5"/>
<rect x="688.49" y="383.17" width="9.00" height="0.86" fill="#FFC000"/>
<rect x="688.49" y="382.85" width="9.00" height="0.32" fill="#5B9BD5"/>
<rect x="698.76" y="378.30" width="9.00" height="23.20" fill="#4472C4"/>
<rect x="698.76" y="350.53" width="9.00" height="27.77" fill="#ED7D31"/>
<rect x="698.76" y="340.95" width="9.00" height="9.58" fill="#A5A5A5"/>
<rect x="698.76" y="339.32" width="9.00" height="1.62" fill="#FFC000"/>
<rect x="698.76" y="338.47" width="9.00" height="0.86" fill="#5B9BD5"/>
<rect x="709.03" y="384.03" width="9.00" height="17.47" fill="#4472C4"/>
<rect x="709.03" y="367.77" width="9.00" height="16.26" fill="#ED7D31"/>
<rect x="709.03" y="363.92" width="9.00" height="3.85" fill="#A5A5A5"/>
<rect x="709.03" y="362.29" width="9.00" height="1.62" fill="#FFC000"/>
<rect x="709.03" y="361.60" width="9.00" height="0.70" fill="#5B9BD5"/>
<rect x="719.30" y="382.85" width="9.00" height="18.65" fill="#4472C4"/>
<rect x="719.30" y="374.98" width="9.00" height="7.86" fill="#ED7D31"/>
<rect x="719.30" y="373.31" width="9.00" height="1.67" fill="#A5A5A5"/>
<rect x="719.30" y="372.15" width="9.00" height="1.16" fill="#FFC000"/>
<rect x="719.30" y="371.62" width="9.00" height="0.53" fill="#5B9BD5"/>
<rect x="729.57" y="381.18" width="9.00" height="20.32" fill="#4472C4"/>
<rect x="729.57" y="376.33" width="9.00" height="4.85" fill="#ED7D31"/>
<rect x="729.57" y="374.66" width="9.00" height="1.67" fill="#A5A5A5"/>
<rect x="729.57" y="373.43" width="9.00" height="1.23" fill="#FFC000"/>
<rect x="729.57" y="372.80" width="9.00" height="0.63" fill="#5B9BD5"/>
<rect x="739.84" y="381.69" width="9.00" height="19.81" fill="#4472C4"/>
<rect x="739.84" y="377.84" width="9.00" height="3.85" fill="#ED7D31"/>
<rect x="739.84" y="376.21" width="9.00" height="1.62" fill="#A5A5A5"/>
<rect x="739.84" y="375.17" width="9.00" height="1.04" fill="#FFC000"/>
<rect x="739.84" y="374.98" width="9.00" height="0.19" fill="#5B9BD5"/>
<rect x="750.11" y="367.77" width="9.00" height="33.73" fill="#4472C4"/>
<rect x="750.11" y="353.24" width="9.00" height="14.52" fill="#ED7D31"/>
<rect x="750.11" y="350.23" width="9.00" height="3.02" fill="#A5A5A5"/>
<rect x="750.11" y="348.26" width="9.00" height="1.97" fill="#FFC000"/>
<rect x="750.11" y="348.00" width="9.00" height="0.26" fill="#5B9BD5"/>
<rect x="760.38" y="362.76" width="9.00" height="38.74" fill="#4472C4"/>
<rect x="760.38" y="353.87" width="9.00" height="8.89" fill="#ED7D31"/>
<rect x="760.38" y="351.02" width="9.00" height="2.85" fill="#A5A5A5"/>
<rect x="760.38" y="349.30" width="9.00" height="1.72" fill="#FFC000"/>
<rect x="760.38" y="349.02" width="9.00" height="0.28" fill="#5B9BD5"/>
<rect x="770.65" y="362.41" width="9.00" height="39.09" fill="#4472C4"/>
<rect x="770.65" y="355.73" width="9.00" height="6.68" fill="#ED7D31"/>
<rect x="770.65" y="354.40" width="9.00" height="1.32" fill="#A5A5A5"/>
<rect x="770.65" y="353.24" width="9.00" height="1.16" fill="#FFC000"/>
<rect x="770.65" y="353.01" width="9.00" height="0.23" fill="#5B9BD5"/>
<rect x="780.92" y="361.60" width="9.00" height="39.90" fill="#4472C4"/>
<rect x="780.92" y="356.26" width="9.00" height="5.34" fill="#ED7D31"/>
<rect x="780.92" y="354.87" width="9.00" height="1.39" fill="#A5A5A5"/>
<rect x="780.92" y="353.71" width="9.00" height="1.16" fill="#FFC000"/>
<rect x="780.92" y="353.55" width="9.00" height="0.16" fill="#5B9BD5"/>
<rect x="791.19" y="359.74" width="9.00" height="41.76" fill="#4472C4"/>
<rect x="791.19" y="355.38" width="9.00" height="4.36" fill="#ED7D31"/>
<rect x="791.19" y="354.54" width="9.00" height="0.84" fill="#A5A5A5"/>
<rect x="791.19" y="354.17" width="9.00" height="0.37" fill="#FFC000"/>
<rect x="791.19" y="354.03" width="9.00" height="0.14" fill="#5B9BD5"/>
<rect x="801.46" y="348.51" width="9.00" height="52.99" fill="#4472C4"/>
<rect x="801.46" y="337.63" width="9.00" height="10.88" fill="#ED7D31"/>
<rect x="801.46" y="334.27" width="9.00" height="3.36" fill="#A5A5A5"/>
<rect x="801.46" y="332.48" width="9.00" height="1.79" fill="#FFC000"/>
<rect x="801.46" y="332.27" width="9.00" height="0.21" fill="#5B9BD5"/>
<rect x="811.73" y="344.34" width="9.00" height="57.16" fill="#4472C4"/>
<rect x="811.73" y="335.45" width="9.00" height="8.89" fill="#ED7D31"/>
<rect x="811.73" y="333.11" width="9.00" height="2.34" fill="#A5A5A5"/>
<rect x="811.73" y="331.32" width="9.00" height="1.79" fill="#FFC000"/>
<rect x="811.73" y="331.09" width="9.00" height="0.23" fill="#5B9BD5"/>
<rect x="822.00" y="344.82" width="9.00" height="56.68" fill="#4472C4"/>
<rect x="822.00" y="337.63" width="9.00" height="7.19" fill="#ED7D31"/>
<rect x="822.00" y="335.96" width="9.00" height="1.67" fill="#A5A5A5"/>
<rect x="822.00" y="334.45" width="9.00" height="1.51" fill="#FFC000"/>
<rect x="822.00" y="334.27" width="9.00" height="0.19" fill="#5B9BD5"/>
<rect x="832.27" y="342.64" width="9.00" height="58.86" fill="#4472C4"/>
<rect x="832.27" y="336.80" width="9.00" height="5.85" fill="#ED7D31"/>
<rect x="832.27" y="334.27" width="9.00" height="2.53" fill="#A5A5A5"/>
<rect x="832.27" y="332.94" width="9.00" height="1.32" fill="#FFC000"/>
<rect x="832.27" y="332.76" width="9.00" height="0.19" fill="#5B9BD5"/>
<rect x="842.54" y="341.48" width="9.00" height="60.02" fill="#4472C4"/>
<rect x="842.54" y="337.63" width="9.00" height="3.85" fill="#ED7D31"/>
<rect x="842.54" y="335.96" width="9.00" height="1.67" fill="#A5A5A5"/>
<rect x="842.54" y="334.45" width="9.00" height="1.51" fill="#FFC000"/>
<rect x="842.54" y="334.27" width="9.00" height="0.19" fill="#5B9BD5"/>
<rect x="852.81" y="334.45" width="9.00" height="67.05" fill="#4472C4"/>
<rect x="852.81" y="323.06" width="9.00" height="11.39" fill="#ED7D31"/>
<rect x="852.81" y="321.37" width="9.00" height="1.69" fill="#A5A5A5"/>
<rect x="852.81" y="319.95" width="9.00" height="1.42" fill="#FFC000"/>
<rect x="852.81" y="319.70" width="9.00" height="0.26" fill="#5B9BD5"/>
<rect x="863.08" y="333.43" width="9.00" height="68.07" fill="#4472C4"/>
<rect x="863.08" y="323.06" width="9.00" height="10.37" fill="#ED7D31"/>
<rect x="863.08" y="321.69" width="9.00" height="1.37" fill="#A5A5A5"/>
<rect x="863.08" y="320.76" width="9.00" height="0.93" fill="#FFC000"/>
<rect x="863.08" y="320.53" width="9.00" height="0.23" fill="#5B9BD5"/>
<rect x="873.35" y="335.84" width="9.00" height="65.66" fill="#4472C4"/>
<rect x="873.35" y="326.17" width="9.00" height="9.67" fill="#ED7D31"/>
<rect x="873.35" y="324.59" width="9.00" height="1.58" fill="#A5A5A5"/>
<rect x="873.35" y="323.32" width="9.00" height="1.28" fill="#FFC000"/>
<rect x="873.35" y="323.13" width="9.00" height="0.19" fill="#5B9BD5"/>
<rect x="883.62" y="334.78" width="9.00" height="66.72" fill="#4472C4"/>
<rect x="883.62" y="324.38" width="9.00" height="10.39" fill="#ED7D31"/>
<rect x="883.62" y="323.22" width="9.00" height="1.16" fill="#A5A5A5"/>
<rect x="883.62" y="322.39" width="9.00" height="0.84" fill="#FFC000"/>
<rect x="883.62" y="322.23" width="9.00" height="0.16" fill="#5B9BD5"/>
<rect x="893.89" y="344.98" width="9.00" height="56.52" fill="#4472C4"/>
<rect x="893.89" y="338.63" width="9.00" height="6.36" fill="#ED7D31"/>
<rect x="893.89" y="337.47" width="9.00" height="1.16" fill="#A5A5A5"/>
<rect x="893.89" y="336.77" width="9.00" height="0.70" fill="#FFC000"/>
<rect x="893.89" y="336.61" width="9.00" height="0.16" fill="#5B9BD5"/>
<rect x="904.16" y="327.72" width="9.00" height="73.78" fill="#4472C4"/>
<rect x="904.16" y="318.21" width="9.00" height="9.51" fill="#ED7D31"/>
<rect x="904.16" y="316.01" width="9.00" height="2.20" fill="#A5A5A5"/>
<rect x="904.16" y="315.08" width="9.00" height="0.93" fill="#FFC000"/>
<rect x="904.16" y="314.85" width="9.00" height="0.23" fill="#5B9BD5"/>
<rect x="914.43" y="326.10" width="9.00" height="75.40" fill="#4472C4"/>
<rect x="914.43" y="317.70" width="9.00" height="8.40" fill="#ED7D31"/>
<rect x="914.43" y="315.52" width="9.00" height="2.18" fill="#A5A5A5"/>
<rect x="914.43" y="313.80" width="9.00" height="1.72" fill="#FFC000"/>
<rect x="914.43" y="313.50" width="9.00" height="0.30" fill="#5B9BD5"/>
<rect x="924.70" y="324.38" width="9.00" height="77.12" fill="#4472C4"/>
<rect x="924.70" y="316.52" width="9.00" height="7.86" fill="#ED7D31"/>
<rect x="924.70" y="315.20" width="9.00" height="1.32" fill="#A5A5A5"/>
<rect x="924.70" y="313.46" width="9.00" height="1.74" fill="#FFC000"/>
<rect x="924.70" y="313.18" width="9.00" height="0.28" fill="#5B9BD5"/>
<rect x="934.97" y="320.69" width="9.00" height="80.81" fill="#4472C4"/>
<rect x="934.97" y="314.69" width="9.00" height="6.01" fill="#ED7D31"/>
<rect x="934.97" y="312.64" width="9.00" height="2.04" fill="#A5A5A5"/>
<rect x="934.97" y="310.79" width="9.00" height="1.86" fill="#FFC000"/>
<rect x="934.97" y="310.49" width="9.00" height="0.30" fill="#5B9BD5"/>
<rect x="945.24" y="318.21" width="9.00" height="83.29" fill="#4472C4"/>
<rect x="945.24" y="312.18" width="9.00" height="6.03" fill="#ED7D31"/>
<rect x="945.24" y="310.65" width="9.00" height="1.53" fill="#A5A5A5"/>
<rect x="945.24" y="309.74" width="9.00" height="0.90" fill="#FFC000"/>
<rect x="945.24" y="309.33" width="9.00" height="0.42" fill="#5B9BD5"/>
<rect x="955.51" y="320.69" width="9.00" height="80.81" fill="#4472C4"/>
<rect x="955.51" y="310.65" width="9.00" height="10.05" fill="#ED7D31"/>
<rect x="955.51" y="308.82" width="9.00" height="1.83" fill="#A5A5A5"/>
<rect x="955.51" y="306.84" width="9.00" height="1.97" fill="#FFC000"/>
<rect x="955.51" y="305.96" width="9.00" height="0.88" fill="#5B9BD5"/>
<rect x="965.78" y="325.57" width="9.00" height="75.93" fill="#4472C4"/>
<rect x="965.78" y="314.69" width="9.00" height="10.88" fill="#ED7D31"/>
<rect x="965.78" y="312.64" width="9.00" height="2.04" fill="#A5A5A5"/>
<rect x="965.78" y="311.37" width="9.00" height="1.28" fill="#FFC000"/>
<rect x="965.78" y="311.02" width="9.00" height="0.35" fill="#5B9BD5"/>
<rect x="976.05" y="324.38" width="9.00" height="77.12" fill="#4472C4"/>
<rect x="976.05" y="316.52" width="9.00" height="7.86" fill="#ED7D31"/>
<rect x="976.05" y="314.85" width="9.00" height="1.67" fill="#A5A5A5"/>
<rect x="976.05" y="313.69" width="9.00" height="1.16" fill="#FFC000"/>
<rect x="976.05" y="313.50" width="9.00" height="0.19" fill="#5B9BD5"/>
<rect x="986.32" y="320.21" width="9.00" height="81.29" fill="#4472C4"/>
<rect x="986.32" y="314.04" width="9.00" height="6.17" fill="#ED7D31"/>
<rect x="986.32" y="312.64" width="9.00" height="1.39" fill="#A5A5A5"/>
<rect x="986.32" y="311.37" width="9.00" height="1.28" fill="#FFC000"/>
<rect x="986.32" y="311.02" width="9.00" height="0.35" fill="#5B9BD5"/>
<rect x="996.59" y="321.92" width="9.00" height="79.58" fill="#4472C4"/>
<rect x="996.59" y="315.27" width="9.00" height="6.66" fill="#ED7D31"/>
<rect x="996.59" y="314.08" width="9.00" height="1.18" fill="#A5A5A5"/>
<rect x="996.59" y="313.22" width="9.00" height="0.86" fill="#FFC000"/>
<rect x="996.59" y="313.06" width="9.00" height="0.16" fill="#5B9BD5"/>
<rect x="1006.86" y="319.02" width="9.00" height="82.48" fill="#4472C4"/>
<rect x="1006.86" y="309.91" width="9.00" height="9.12" fill="#ED7D31"/>
<rect x="1006.86" y="308.58" width="9.00" height="1.32" fill="#A5A5A5"/>
<rect x="1006.86" y="306.84" width="9.00" height="1.74" fill="#FFC000"/>
<rect x="1006.86" y="306.61" width="9.00" height="0.23" fill="#5B9BD5"/>
<rect x="1017.13" y="314.82" width="9.00" height="86.68" fill="#4472C4"/>
<rect x="1017.13" y="305.29" width="9.00" height="9.54" fill="#ED7D31"/>
<rect x="1017.13" y="304.52" width="9.00" height="0.77" fill="#A5A5A5"/>
<rect x="1017.13" y="303.36" width="9.00" height="1.16" fill="#FFC000"/>
<rect x="1017.13" y="303.13" width="9.00" height="0.23" fill="#5B9BD5"/>
<rect x="1027.40" y="313.34" width="9.00" height="88.16" fill="#4472C4"/>
<rect x="1027.40" y="306.45" width="9.00" height="6.89" fill="#ED7D31"/>
<rect x="1027.40" y="303.27" width="9.00" height="3.18" fill="#A5A5A5"/>
<rect x="1027.40" y="301.97" width="9.00" height="1.30" fill="#FFC000"/>
<rect x="1027.40" y="301.09" width="9.00" height="0.88" fill="#5B9BD5"/>
<rect x="1037.67" y="312.32" width="9.00" height="89.18" fill="#4472C4"/>
<rect x="1037.67" y="305.61" width="9.00" height="6.70" fill="#ED7D31"/>
<rect x="1037.67" y="302.27" width="9.00" height="3.34" fill="#A5A5A5"/>
<rect x="1037.67" y="300.58" width="9.00" height="1.69" fill="#FFC000"/>
<rect x="1037.67" y="300.26" width="9.00" height="0.32" fill="#5B9BD5"/>
<rect x="1047.94" y="309.47" width="9.00" height="92.03" fill="#4472C4"/>
<rect x="1047.94" y="303.94" width="9.00" height="5.52" fill="#ED7D31"/>
<rect x="1047.94" y="301.09" width="9.00" height="2.85" fill="#A5A5A5"/>
<rect x="1047.94" y="299.42" width="9.00" height="1.67" fill="#FFC000"/>
<rect x="1047.94" y="299.10" width="9.00" height="0.32" fill="#5B9BD5"/>
<rect x="1058.21" y="305.29" width="9.00" height="96.21" fill="#4472C4"/>
<rect x="1058.21" y="298.07" width="9.00" height="7.22" fill="#ED7D31"/>
<rect x="1058.21" y="293.90" width="9.00" height="4.18" fill="#A5A5A5"/>
<rect x="1058.21" y="292.46" width="9.00" height="1.44" fill="#FFC000"/>
<rect x="1058.21" y="292.23" width="9.00" height="0.23" fill="#5B9BD5"/>
<rect x="1068.48" y="303.60" width="9.00" height="97.90" fill="#4472C4"/>
<rect x="1068.48" y="298.58" width="9.00" height="5.01" fill="#ED7D31"/>
<rect x="1068.48" y="293.06" width="9.00" height="5.52" fill="#A5A5A5"/>
<rect x="1068.48" y="291.30" width="9.00" height="1.76" fill="#FFC000"/>
<rect x="1068.48" y="291.04" width="9.00" height="0.26" fill="#5B9BD5"/>
<text x="601.8" y="265.9" class="ax" text-anchor="end">6.00</text>
<text x="601.8" y="289.0" class="ax" text-anchor="end">5.00</text>
<text x="601.8" y="312.1" class="ax" text-anchor="end">4.00</text>
<text x="601.8" y="335.2" class="ax" text-anchor="end">3.00</text>
<text x="601.8" y="358.3" class="ax" text-anchor="end">2.00</text>
<text x="601.8" y="381.4" class="ax" text-anchor="end">1.00</text>
<text x="597" y="405.2" class="ax" text-anchor="end" font-weight="bold">-</text>
<text x="621.1" y="419" class="ax" text-anchor="middle">2020/1/15</text>
<text x="764.9" y="419" class="ax" text-anchor="middle">2020/2/11</text>
<text x="908.7" y="419" class="ax" text-anchor="middle">2020/3/2</text>
<text x="1052.4" y="419" class="ax" text-anchor="middle">2020/3/20</text>
<rect x="611.10" y="437.4" width="6.8" height="6.4" fill="#4472C4"/>
<text x="624.7" y="444.6" class="lb"><tspan class="cj">成交量</tspan><tspan dx="1.2">:</tspan><tspan dx="0.4">R001</tspan></text>
<rect x="708.20" y="437.4" width="6.8" height="6.4" fill="#ED7D31"/>
<text x="721.8" y="444.6" class="lb"><tspan class="cj">成交量</tspan><tspan dx="1.2">:</tspan><tspan dx="0.4">R007</tspan></text>
<rect x="805.30" y="437.4" width="6.8" height="6.4" fill="#A5A5A5"/>
<text x="818.9" y="444.6" class="lb"><tspan class="cj">成交量</tspan><tspan dx="1.2">:</tspan><tspan dx="0.4">R014</tspan></text>
<rect x="902.60" y="437.4" width="6.8" height="6.4" fill="#FFC000"/>
<text x="916.2" y="444.6" class="lb"><tspan class="cj">成交量</tspan><tspan dx="1.2">:</tspan><tspan dx="0.4">R021</tspan></text>
<rect x="999.90" y="437.4" width="6.8" height="6.4" fill="#5B9BD5"/>
<text x="1013.5" y="444.6" class="lb"><tspan class="cj">成交量</tspan><tspan dx="1.2">:</tspan><tspan dx="0.4">R1M</tspan></text>
</g>
</svg>
</body>
</html>
